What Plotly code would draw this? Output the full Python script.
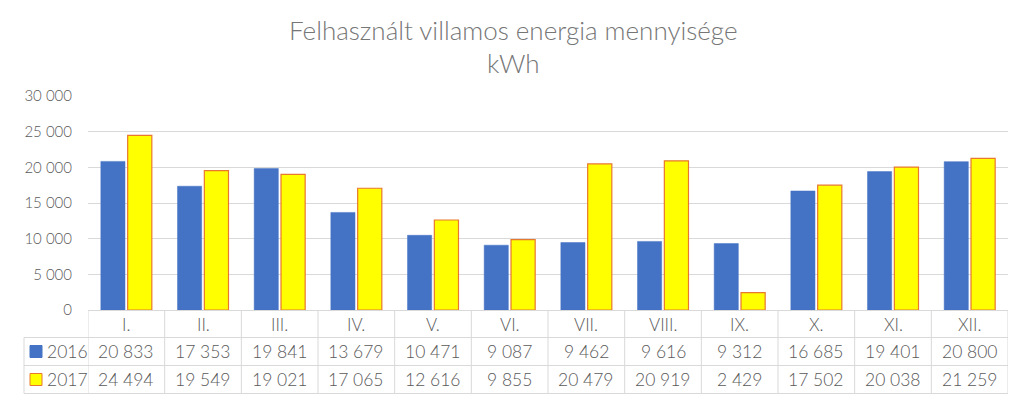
import plotly.graph_objects as go

months = ["I.", "II.", "III.", "IV.", "V.", "VI.", "VII.", "VIII.", "IX.", "X.", "XI.", "XII."]
series_names = ["2016", "2017"]
values_2016 = [20833, 17353, 19841, 13679, 10471, 9087, 9462, 9616, 9312, 16685, 19401, 20800]
values_2017 = [24494, 19549, 19021, 17065, 12616, 9855, 20479, 20919, 2429, 17502, 20038, 21259]
y_ticks = [0, 5000, 10000, 15000, 20000, 25000, 30000]

BLUE = "#4472C4"
YELLOW = "#FFFF00"
YELLOW_LINE = "#E8782E"
TEXT = "#595959"
GRID = "#D9D9D9"
FONT = "Lato, Open Sans, sans-serif"

W, H = 1024, 401
L, R, T, B = 88, 16, 96, 91
PW, PH = W - L - R, H - T - B

def py(p):  # pixel y -> paper y
    return (H - B - p) / PH

def px(p):  # pixel x -> paper x
    return (p - L) / PW

def fmt(v):
    return f"{v:,}".replace(",", " ")

xs = list(range(len(months)))

fig = go.Figure()
fig.add_trace(go.Bar(x=xs, y=values_2016, name=series_names[0], marker=dict(color=BLUE, line=dict(color=BLUE, width=0.5))))
fig.add_trace(go.Bar(x=xs, y=values_2017, name=series_names[1], marker=dict(color=YELLOW, line=dict(color=YELLOW_LINE, width=1.2))))

shapes = []
annotations = []
line = dict(color=GRID, width=1)
row_lines = [310.5, 337.5, 365.5, 393.5]
shapes.append(dict(type="line", xref="paper", yref="paper", x0=0, x1=1, y0=py(row_lines[0]), y1=py(row_lines[0]), line=line))
for r in row_lines[1:]:
    shapes.append(dict(type="line", xref="paper", yref="paper", x0=px(24), x1=1, y0=py(r), y1=py(r), line=line))
for i in range(len(months) + 1):
    xv = i - 0.5
    shapes.append(dict(type="line", xref="x", yref="paper", x0=xv, x1=xv, y0=py(row_lines[0]), y1=py(row_lines[-1]), line=line))
shapes.append(dict(type="line", xref="paper", yref="paper", x0=px(24), x1=px(24), y0=py(row_lines[1]), y1=py(row_lines[-1]), line=line))

for i, m in enumerate(months):
    annotations.append(dict(x=i, y=py(324), xref="x", yref="paper", text=m, showarrow=False,
                            xanchor="center", yanchor="middle",
                            font=dict(size=17, color=TEXT, family=FONT, weight=300)))
rows = [(values_2016, 351.5, BLUE, BLUE), (values_2017, 379.5, YELLOW, YELLOW_LINE)]
for (vals, yc, fc, lc), name in zip(rows, series_names):
    for i, v in enumerate(vals):
        annotations.append(dict(x=i, y=py(yc), xref="x", yref="paper", text=fmt(v), showarrow=False,
                                xanchor="center", yanchor="middle",
                                font=dict(size=17.5, color=TEXT, family=FONT, weight=300)))
    shapes.append(dict(type="rect", xref="paper", yref="paper", x0=px(30), x1=px(42), y0=py(yc - 6), y1=py(yc + 6),
                       fillcolor=fc, line=dict(color=lc, width=1)))
    annotations.append(dict(x=px(45), y=py(yc), xref="paper", yref="paper", text=name, showarrow=False,
                            xanchor="left", yanchor="middle", font=dict(size=17.5, color=TEXT, family=FONT, weight=300)))

annotations.append(dict(x=px(513), y=py(30), xref="paper", yref="paper", text="Felhasznált villamos energia mennyisége",
                        showarrow=False, xanchor="center", yanchor="middle",
                        font=dict(size=26, color="#767676", family=FONT, weight=300)))
annotations.append(dict(x=px(513), y=py(63), xref="paper", yref="paper", text="kWh",
                        showarrow=False, xanchor="center", yanchor="middle",
                        font=dict(size=26, color="#767676", family=FONT, weight=300)))

fig.update_layout(
    width=W, height=H,
    margin=dict(l=L, r=R, t=T, b=B, pad=0),
    paper_bgcolor="white", plot_bgcolor="white",
    barmode="group", bargap=0.3, bargroupgap=0.1,
    showlegend=False,
    separators=", ",
    shapes=shapes, annotations=annotations,
    font=dict(family=FONT, color=TEXT),
)
fig.update_xaxes(range=[-0.5, len(months) - 0.5], showticklabels=False, showgrid=False, zeroline=False, showline=False)
fig.update_yaxes(range=[0, 30000], tickvals=y_ticks, tickformat=",d", showgrid=True, gridcolor=GRID, gridwidth=1,
                 zeroline=False, showline=False, ticks="", ticklabelstandoff=15,
                 tickfont=dict(size=15, color=TEXT, family=FONT, weight=300))

fig.write_html("out.html")
